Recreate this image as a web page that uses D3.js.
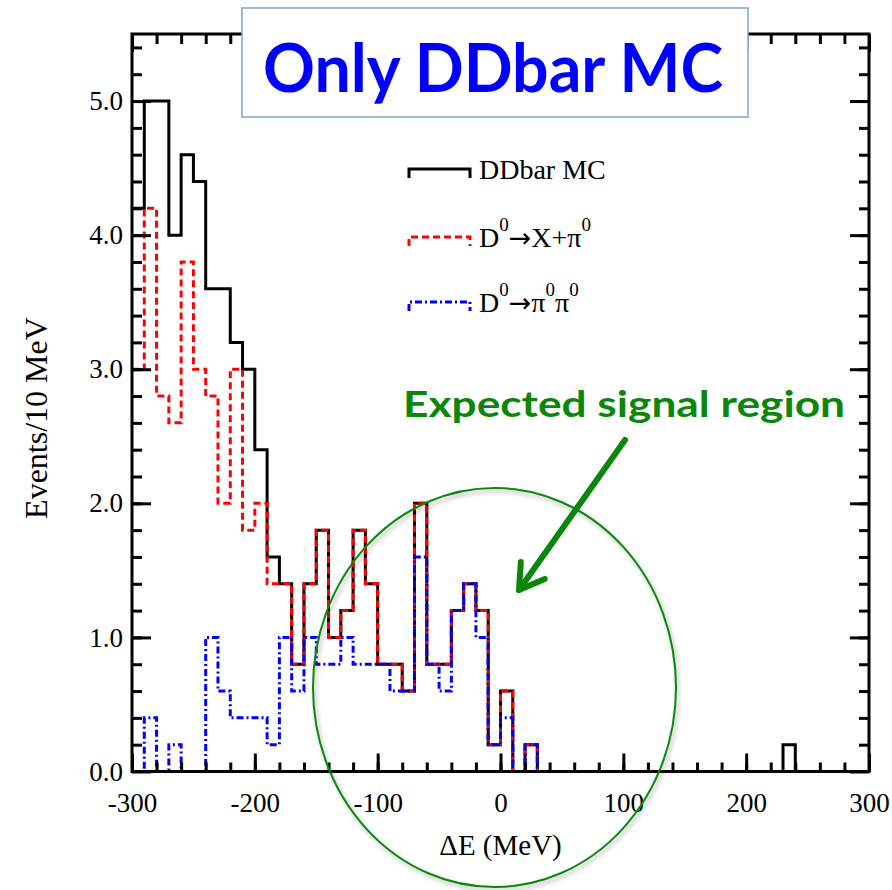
<!DOCTYPE html>
<html>
<head>
<meta charset="utf-8">
<script src="https://cdn.jsdelivr.net/npm/d3@7"></script>
<style>
body { margin: 0; background: #fff; }
svg { display: block; }
</style>
</head>
<body>
<svg width="892" height="890"></svg>
<script>
// 10 MeV bins from -300 to 300 MeV (61 edges, 60 bins)
var binEdges = d3.range(-300, 301, 10);

// DDbar MC (black solid)
var ddbarMC = [4.2, 5.0, 5.0, 4.0, 4.6, 4.4, 3.6, 3.6, 3.2, 3.0,
               2.4, 1.6, 1.4, 0.8, 1.4, 1.8, 1.0, 1.2, 1.8, 1.4,
               0.8, 0.8, 0.6, 2.0, 0.8, 0.8, 1.2, 1.4, 1.2, 0.2,
               0.6, 0.0, 0.2, 0, 0, 0, 0, 0, 0, 0,
               0, 0, 0, 0, 0, 0, 0, 0, 0, 0,
               0, 0, 0, 0.2, 0, 0, 0, 0, 0, 0];

// D0 -> X + pi0 (red dashed)
var xPi0 = [3.0, 4.2, 2.8, 2.6, 3.8, 3.0, 2.8, 2.0, 3.0, 1.8,
            2.0, 1.4, 1.4, 0.8, 1.4, 1.8, 1.0, 1.2, 1.8, 1.4,
            0.8, 0.8, 0.6, 2.0, 0.8, 0.8, 1.2, 1.4, 1.2, 0.2,
            0.6, 0.0, 0.2, 0, 0, 0, 0, 0, 0, 0,
            0, 0, 0, 0, 0, 0, 0, 0, 0, 0,
            0, 0, 0, 0, 0, 0, 0, 0, 0, 0];

// D0 -> pi0 pi0 (blue dash-dot)
var pi0Pi0 = [0.0, 0.4, 0.0, 0.2, 0.0, 0.0, 1.0, 0.6, 0.4, 0.4,
              0.4, 0.2, 1.0, 0.6, 1.0, 0.8, 0.8, 1.0, 0.8, 0.8,
              0.8, 0.6, 0.6, 1.6, 0.8, 0.6, 1.2, 1.4, 1.0, 0.2,
              0.4, 0.0, 0.2, 0, 0, 0, 0, 0, 0, 0,
              0, 0, 0, 0, 0, 0, 0, 0, 0, 0,
              0, 0, 0, 0, 0, 0, 0, 0, 0, 0];

var xMajor = [-300, -200, -100, 0, 100, 200, 300];
var xMinor = d3.range(-280, 300, 20);
var yMajor = [0, 1, 2, 3, 4, 5];
var yMinor = d3.range(0.2, 5.5, 0.2);

// legend labels, split into normal / superscript pieces
var legendLabels = [["DDbar MC"], ["D", "0", "→", "X+π", "0"], ["D", "0", "→", "π", "0", "π", "0"]];

var svg = d3.select("svg");
var serif = "'Liberation Serif', 'Times New Roman', serif";
var sans = "Lato, Calibri, 'Open Sans', sans-serif";

var x = d3.scaleLinear().domain([-300, 300]).range([132, 869]);
var y = d3.scaleLinear().domain([0, 5.5]).range([771.5, 34]);

// drop shadow for the circled region (ppt style)
var defs = svg.append("defs");
defs.append("filter").attr("id", "shadow")
    .attr("x", "-10%").attr("y", "-10%").attr("width", "120%").attr("height", "120%")
  .append("feDropShadow")
    .attr("dx", 2).attr("dy", 3).attr("stdDeviation", 2)
    .attr("flood-color", "#000").attr("flood-opacity", 0.3);

// histograms -- black first, then red, then blue on top
var step = d3.line().curve(d3.curveStepAfter);

function histPath(vals) {
  return step(binEdges.map(function(e, i) {
    return [x(e), y(vals[Math.min(i, vals.length - 1)])];
  }));
}

var series = [
  {vals: ddbarMC, color: "#000", dash: null},
  {vals: xPi0, color: "#ff0000", dash: "7,4"},
  {vals: pi0Pi0, color: "#0000ff", dash: "7,3,2,3"}
];

svg.append("g").selectAll("path")
  .data(series)
  .enter().append("path")
    .attr("d", function(d) { return histPath(d.vals); })
    .attr("fill", "none")
    .attr("stroke", function(d) { return d.color; })
    .attr("stroke-width", 3)
    .attr("stroke-dasharray", function(d) { return d.dash; });

// axes, ticks pointing inward on all four sides
function styleAxis(g) {
  g.select(".domain").remove();
  g.selectAll(".tick line").attr("stroke", "#000").attr("stroke-width", 3);
  g.selectAll("text").attr("font-family", serif).attr("font-size", 27).attr("fill", "#000");
}

svg.append("g").attr("transform", "translate(0," + y(0) + ")")
    .call(d3.axisBottom(x).tickValues(xMajor).tickSize(-18).tickPadding(21)
      .tickFormat(function(d) { return String(d); }))
    .call(styleAxis);
svg.append("g").attr("transform", "translate(0," + y(0) + ")")
    .call(d3.axisBottom(x).tickValues(xMinor).tickSize(-9).tickFormat(""))
    .call(styleAxis);
svg.append("g").attr("transform", "translate(0," + y(5.5) + ")")
    .call(d3.axisTop(x).tickValues(xMajor).tickSize(-18).tickFormat(""))
    .call(styleAxis);
svg.append("g").attr("transform", "translate(0," + y(5.5) + ")")
    .call(d3.axisTop(x).tickValues(xMinor).tickSize(-10).tickFormat(""))
    .call(styleAxis);

svg.append("g").attr("transform", "translate(" + x(-300) + ",0)")
    .call(d3.axisLeft(y).tickValues(yMajor).tickSize(-19).tickPadding(9)
      .tickFormat(d3.format(".1f")))
    .call(styleAxis);
svg.append("g").attr("transform", "translate(" + x(-300) + ",0)")
    .call(d3.axisLeft(y).tickValues(yMinor).tickSize(-10).tickFormat(""))
    .call(styleAxis);
svg.append("g").attr("transform", "translate(" + x(300) + ",0)")
    .call(d3.axisRight(y).tickValues(yMajor).tickSize(-19).tickFormat(""))
    .call(styleAxis);
svg.append("g").attr("transform", "translate(" + x(300) + ",0)")
    .call(d3.axisRight(y).tickValues(yMinor).tickSize(-10).tickFormat(""))
    .call(styleAxis);

// frame
svg.append("rect")
    .attr("x", x(-300)).attr("y", y(5.5))
    .attr("width", x(300) - x(-300)).attr("height", y(0) - y(5.5))
    .attr("fill", "none").attr("stroke", "#000").attr("stroke-width", 3);

// axis titles
svg.append("text")
    .attr("x", (x(-300) + x(300)) / 2).attr("y", 855)
    .attr("text-anchor", "middle")
    .attr("font-family", serif).attr("font-size", 29)
    .text("ΔE (MeV)");

svg.append("text")
    .attr("transform", "translate(47," + 418 + ") rotate(-90)")
    .attr("text-anchor", "middle")
    .attr("font-family", serif).attr("font-size", 32)
    .text("Events/10 MeV");

// legend
var legend = svg.append("g");
var legendY = [169, 237, 302];

series.forEach(function(s, i) {
  var ly = legendY[i];
  legend.append("path")
      .attr("d", "M409," + (ly + 9) + "V" + ly + "H470V" + (ly + 9))
      .attr("fill", "none")
      .attr("stroke", s.color)
      .attr("stroke-width", 3)
      .attr("stroke-dasharray", s.dash);

  var t = legend.append("text")
      .attr("x", 479).attr("y", ly + 10)
      .attr("font-family", serif).attr("font-size", 28);
  var level = 0; // current baseline shift
  legendLabels[i].forEach(function(p) {
    var sup = p === "0";
    var shift = sup ? -16 : 0;
    var ts = t.append("tspan")
        .attr("dy", shift - level)
        .attr("font-size", sup ? 19 : 28)
        .text(p);
    if (p === "→") ts.attr("font-family", "'DejaVu Sans', sans-serif").attr("font-size", 27);
    level = shift;
  });
});

// title box
svg.append("rect")
    .attr("x", 242).attr("y", 8).attr("width", 506).attr("height", 109)
    .attr("fill", "#fff").attr("stroke", "#7ea3d2").attr("stroke-width", 1.5);
svg.append("text")
    .attr("x", 263).attr("y", 92)
    .attr("font-family", sans).attr("font-weight", 700).attr("font-size", 66)
    .attr("textLength", 460).attr("lengthAdjust", "spacingAndGlyphs")
    .attr("fill", "#0000ff")
    .text("Only DDbar MC");

// expected signal region annotation
svg.append("ellipse")
    .attr("cx", 494.5).attr("cy", 687.5).attr("rx", 181.5).attr("ry", 199.5)
    .attr("fill", "none").attr("stroke", "#0a870a").attr("stroke-width", 2)
    .attr("filter", "url(#shadow)");

svg.append("text")
    .attr("x", 403).attr("y", 417)
    .attr("font-family", sans).attr("font-weight", 700).attr("font-size", 37)
    .attr("textLength", 442).attr("lengthAdjust", "spacingAndGlyphs")
    .attr("fill", "#0a870a")
    .text("Expected signal region");

var tail = [625, 440], tip = [519, 590];
var ang = Math.atan2(tip[1] - tail[1], tip[0] - tail[0]);
var headLen = 28, spread = 0.55;
var arrow = svg.append("g")
    .attr("stroke", "#0a870a").attr("stroke-width", 6)
    .attr("stroke-linecap", "round").attr("stroke-linejoin", "round").attr("fill", "none");
arrow.append("line")
    .attr("x1", tail[0]).attr("y1", tail[1]).attr("x2", tip[0]).attr("y2", tip[1]);
arrow.append("path")
    .attr("d", "M" + (tip[0] - headLen * Math.cos(ang - spread)) + "," + (tip[1] - headLen * Math.sin(ang - spread)) +
               "L" + tip[0] + "," + tip[1] +
               "L" + (tip[0] - headLen * Math.cos(ang + spread)) + "," + (tip[1] - headLen * Math.sin(ang + spread)));
</script>
</body>
</html>
